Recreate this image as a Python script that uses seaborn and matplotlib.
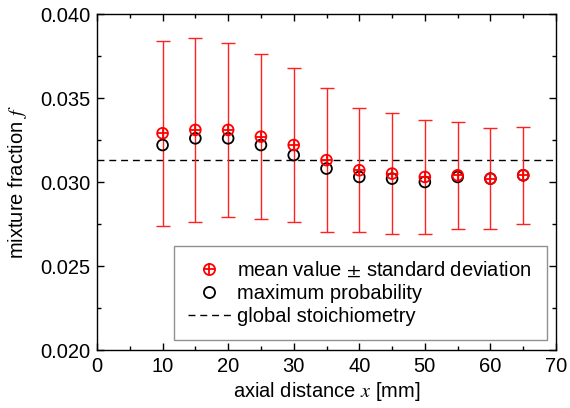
import numpy as np
import pandas as pd
import matplotlib
matplotlib.use("Agg")
import matplotlib.pyplot as plt
from matplotlib.lines import Line2D
import seaborn as sns

# ---- data ----
axial_x = [10, 15, 20, 25, 30, 35, 40, 45, 50, 55, 60, 65]
mean_f = [0.0329, 0.0331, 0.0331, 0.0327, 0.0322, 0.0313, 0.0307, 0.0305, 0.0303, 0.0304, 0.0302, 0.0304]
std_f = [0.0055, 0.0055, 0.0052, 0.0049, 0.0046, 0.0043, 0.0037, 0.0036, 0.0034, 0.0032, 0.0030, 0.0029]
maxprob_f = [0.0322, 0.0326, 0.0326, 0.0322, 0.0316, 0.0308, 0.0303, 0.0302, 0.0300, 0.0303, 0.0302, 0.0304]
stoich_f = 0.0313
x_ticks = [0, 10, 20, 30, 40, 50, 60, 70]
y_ticks = [0.020, 0.025, 0.030, 0.035, 0.040]
labels = ["mean value $\\pm$ standard deviation", "maximum probability", "global stoichiometry"]

sns.set_theme(style="ticks")
plt.rcParams["font.family"] = ["Liberation Sans", "DejaVu Sans"]
plt.rcParams["mathtext.fontset"] = "stix"
plt.rcParams["text.color"] = "black"
plt.rcParams["axes.labelcolor"] = "black"
plt.rcParams["xtick.color"] = "black"
plt.rcParams["ytick.color"] = "black"
FS = 14.5

df = pd.DataFrame({"x": axial_x, "mean": mean_f, "std": std_f, "maxp": maxprob_f})

fig = plt.figure(figsize=(5.7, 4.08), dpi=100)
ax = fig.add_axes([97 / 570, 58 / 408, 459 / 570, 336 / 408])

ax.axhline(stoich_f, color="black", lw=1.0, ls=(0, (5, 3.5)), zorder=1)
ax.errorbar(df["x"], df["mean"], yerr=df["std"], fmt="none", ecolor="#ff2020",
            elinewidth=1.0, capsize=5, capthick=1.0, zorder=2)
sns.scatterplot(data=df, x="x", y="maxp", ax=ax, marker="o", s=60,
                facecolors="none", edgecolor="black", linewidth=1.3, zorder=3)
sns.scatterplot(data=df, x="x", y="mean", ax=ax, marker="o", s=60,
                facecolors="none", edgecolor="#ff0000", linewidth=1.3, zorder=4)
sns.scatterplot(data=df, x="x", y="mean", ax=ax, marker="+", s=60,
                color="#ff0000", linewidth=1.3, zorder=5)

ax.set_xlim(0, 70)
ax.set_ylim(0.020, 0.040)
ax.set_xticks(x_ticks)
ax.set_yticks(y_ticks)
ax.set_xticklabels([str(t) for t in x_ticks])
ax.set_yticklabels([f"{t:.3f}" for t in y_ticks])
ax.set_xticks(np.arange(5, 70, 10), minor=True)
ax.set_yticks([0.0225, 0.0275, 0.0325, 0.0375], minor=True)
ax.tick_params(which="both", direction="in", top=True, right=True, labelsize=FS,
               color="black", labelcolor="black", width=1.0, pad=5)
ax.tick_params(which="major", length=5)
ax.tick_params(which="minor", length=3)
for sp in ax.spines.values():
    sp.set_color("black")
    sp.set_linewidth(1.0)
ax.set_xlabel("axial distance $x$ [mm]", fontsize=FS, labelpad=3, color="black")
ax.set_ylabel("mixture fraction $f$", fontsize=FS, labelpad=8, color="black")

h_mean = (Line2D([], [], ls="none", marker="o", ms=8, mfc="none", mec="#ff0000", mew=1.3),
          Line2D([], [], ls="none", marker="+", ms=8, mec="#ff0000", mew=1.3))
h_max = Line2D([], [], ls="none", marker="o", ms=8, mfc="none", mec="black", mew=1.3)
h_st = Line2D([], [], color="black", lw=1.0, ls=(0, (5, 3.5)))
leg = ax.legend([h_mean, h_max, h_st], labels, loc="lower left",
                bbox_to_anchor=(0.168, 0.03, 0.812, 0.28), mode="expand",
                fontsize=FS, frameon=True, fancybox=False, edgecolor="#909090",
                framealpha=1, handlelength=2.1, handletextpad=0.3,
                labelspacing=0.2, borderpad=0.7, borderaxespad=0)
leg.get_frame().set_linewidth(1.0)
for t in leg.get_texts():
    t.set_color("black")

fig.savefig("out.png", dpi=100)
